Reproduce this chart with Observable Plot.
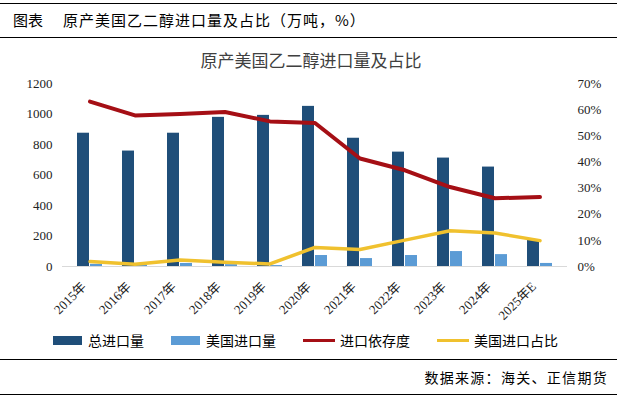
<!DOCTYPE html>
<html><head><meta charset="utf-8">
<script src="https://cdn.jsdelivr.net/npm/d3@7"></script>
<script src="https://cdn.jsdelivr.net/npm/@observablehq/plot@0.6"></script>
<style>
body{margin:0;background:#fff;width:622px;height:399px;position:relative;overflow:hidden;font-family:"Noto Sans CJK SC","Noto Sans",sans-serif;color:#000;}
.rule{position:absolute;left:0;width:617px;height:0;border-top:1.5px solid #000;}
#head{position:absolute;left:13px;top:9px;font-size:15px;letter-spacing:1px;white-space:nowrap;line-height:22px;}
#title{position:absolute;left:0;width:622px;text-align:center;top:48px;font-size:17px;color:#404040;line-height:24px;}
#chart{position:absolute;left:0;top:70px;}
#legend{position:absolute;left:53px;top:330px;display:flex;gap:27px;font-size:14px;line-height:20px;white-space:nowrap;}
.item{display:flex;align-items:center;}
#source{position:absolute;right:14px;top:366px;font-size:14px;letter-spacing:1.3px;line-height:22px;}
</style></head><body>
<div class="rule" style="top:3px"></div>
<div id="head"><span style="letter-spacing:0">图表</span><span style="margin-left:20px">原产美国乙二醇进口量及占比（万吨，%）</span></div>
<div class="rule" style="top:37px"></div>
<div id="title">原产美国乙二醇进口量及占比</div>
<div id="chart"></div>
<div id="legend"></div>
<div class="rule" style="top:359px"></div>
<div id="source">数据来源：海关、正信期货</div>
<div class="rule" style="top:394px"></div>
<script>
const years = ["2015年","2016年","2017年","2018年","2019年","2020年","2021年","2022年","2023年","2024年","2025年E"];
const totalImports = [874, 757, 874, 978, 991, 1050, 841, 750, 711, 652, 174];
const usImports = [14, 10, 20, 12, 6, 72, 52, 72, 98, 78, 20];
const dependency = [63.1, 57.8, 58.3, 59.1, 55.5, 54.9, 41.3, 36.8, 30.4, 26.1, 26.6];
const usShare = [1.9, 0.9, 2.5, 1.6, 1.0, 7.3, 6.5, 10.1, 13.7, 12.8, 9.9];
const leftTicks = [0, 200, 400, 600, 800, 1000, 1200];
const rightTicks = [0, 10, 20, 30, 40, 50, 60, 70];
const seriesNames = ["总进口量", "美国进口量", "进口依存度", "美国进口占比"];
const seriesColors = ["#1F4E79", "#5B9BD5", "#A50F15", "#F0C12E"];

const leftMax = 1200, rightMax = 70;
const toLeft = p => p * leftMax / rightMax;

const rows = years.map((y, i) => ({
  year: y, total: totalImports[i], us: usImports[i],
  dep: toLeft(dependency[i]), share: toLeft(usShare[i])
}));

const serif = "'Liberation Serif','Times New Roman','Noto Sans CJK SC',serif";

const chart = Plot.plot({
  width: 622,
  height: 260,
  marginLeft: 62,
  marginRight: 55,
  marginTop: 13,
  marginBottom: 64,
  style: {fontFamily: serif, fontSize: "13px", color: "#222", background: "transparent"},
  x: {domain: years, padding: 0, axis: null, label: null},
  y: {domain: [0, leftMax], axis: null, label: null},
  marks: [
    Plot.barY(rows, {x: "year", y: "total", fill: seriesColors[0], insetLeft: 10, insetRight: 23}),
    Plot.barY(rows, {x: "year", y: "us", fill: seriesColors[1], insetLeft: 23, insetRight: 10}),
    Plot.ruleY([0], {stroke: "#d9d9d9", strokeWidth: 1}),
    Plot.line(rows, {x: "year", y: "dep", stroke: seriesColors[2], strokeWidth: 4, curve: "linear"}),
    Plot.line(rows, {x: "year", y: "share", stroke: seriesColors[3], strokeWidth: 3.5, curve: "linear"}),
    Plot.axisY(leftTicks, {anchor: "left", tickSize: 0, tickPadding: 10, fontSize: 13, label: null,
      tickFormat: v => String(v)}),
    Plot.axisY(rightTicks.map(toLeft), {anchor: "right", tickSize: 0, tickPadding: 10, fontSize: 13, label: null,
      tickFormat: v => Math.round(v * rightMax / leftMax) + "%"}),
    Plot.axisX({tickSize: 0, tickRotate: -45, tickPadding: 14, dx: -6, dy: 4, fontSize: 13, label: null})
  ]
});
document.getElementById("chart").appendChild(chart);

const legend = document.getElementById("legend");
seriesNames.forEach((name, i) => {
  const item = document.createElement("div");
  item.className = "item";
  const sw = document.createElement("span");
  if (i < 2) {
    sw.style.cssText = `display:inline-block;width:29px;height:9px;background:${seriesColors[i]};margin-right:6px;`;
  } else {
    sw.style.cssText = `display:inline-block;width:32px;height:3px;background:${seriesColors[i]};margin-right:5px;`;
  }
  const tx = document.createElement("span");
  tx.textContent = name;
  item.appendChild(sw); item.appendChild(tx);
  legend.appendChild(item);
});
</script>
</body></html>
